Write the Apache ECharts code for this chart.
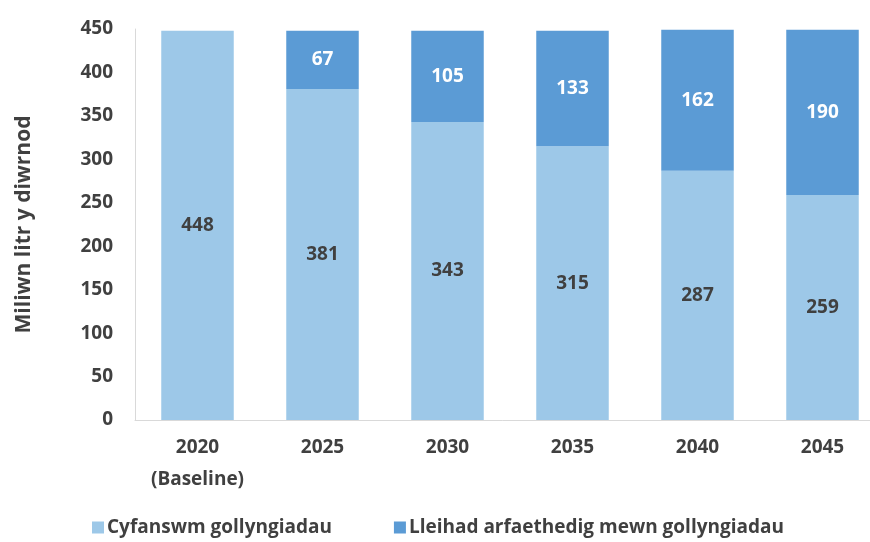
<!DOCTYPE html>
<html>
<head>
<meta charset="utf-8">
<script src="https://cdn.jsdelivr.net/npm/echarts@6/dist/echarts.min.js"></script>
<style>
  html, body { margin: 0; padding: 0; background: #fff; }
  #chart { width: 870px; height: 542px; }
</style>
</head>
<body>
<div id="chart"></div>
<script>
var categories = ['2020\n(Baseline)', '2025', '2030', '2035', '2040', '2045']
var totalLeakage = [448, 381, 343, 315, 287, 259]
var plannedReduction = [0, 67, 105, 133, 162, 190]
var seriesNames = ['Cyfanswm gollyngiadau', 'Lleihad arfaethedig mewn gollyngiadau']

var fontFamily = '"Open Sans", "Liberation Sans", sans-serif'
var chart = echarts.init(document.getElementById('chart'))

var option = {
  backgroundColor: '#fff',
  animation: false,
  textStyle: { fontFamily: fontFamily },
  grid: {
    left: 135,
    width: 750,
    top: 29,
    bottom: 122,
    outerBoundsMode: 'none'
  },
  legend: {
    left: 87,
    bottom: 0,
    itemWidth: 12,
    itemHeight: 12,
    itemGap: 62,
    itemStyle: { borderWidth: 0 },
    icon: 'rect',
    textStyle: {
      color: '#404040',
      fontSize: 19,
      fontWeight: 'bold',
      fontFamily: fontFamily,
      padding: [0, 0, 0, -2]
    },
    data: seriesNames
  },
  xAxis: {
    type: 'category',
    data: categories,
    axisTick: { show: false },
    axisLine: { lineStyle: { color: '#d9d9d9', width: 1 } },
    axisLabel: {
      color: '#404040',
      fontSize: 19,
      fontWeight: 'bold',
      lineHeight: 32,
      margin: 12
    }
  },
  yAxis: {
    type: 'value',
    min: 0,
    max: 450,
    interval: 50,
    name: 'Miliwn litr y diwrnod',
    nameLocation: 'middle',
    nameGap: 100,
    nameRotate: 90,
    nameTextStyle: {
      color: '#404040',
      fontSize: 21,
      fontWeight: 'bold'
    },
    axisLine: { show: true, lineStyle: { color: '#d9d9d9', width: 1 } },
    axisTick: { show: false },
    splitLine: { show: false },
    axisLabel: {
      color: '#404040',
      fontSize: 19,
      fontWeight: 'bold',
      margin: 22
    }
  },
  series: [
    {
      name: seriesNames[0],
      type: 'bar',
      stack: 'total',
      barWidth: '58%',
      data: totalLeakage,
      itemStyle: { color: '#9dc8e8' },
      label: {
        show: true,
        position: 'inside',
        color: '#404040',
        fontSize: 19,
        fontWeight: 'bold'
      }
    },
    {
      name: seriesNames[1],
      type: 'bar',
      stack: 'total',
      barWidth: '58%',
      data: plannedReduction,
      itemStyle: { color: '#5b9bd5' },
      label: {
        show: true,
        position: 'inside',
        color: '#ffffff',
        fontSize: 19,
        fontWeight: 'bold',
        formatter: function (p) { return p.value ? p.value : '' }
      }
    }
  ]
}

chart.setOption(option)
</script>
</body>
</html>
